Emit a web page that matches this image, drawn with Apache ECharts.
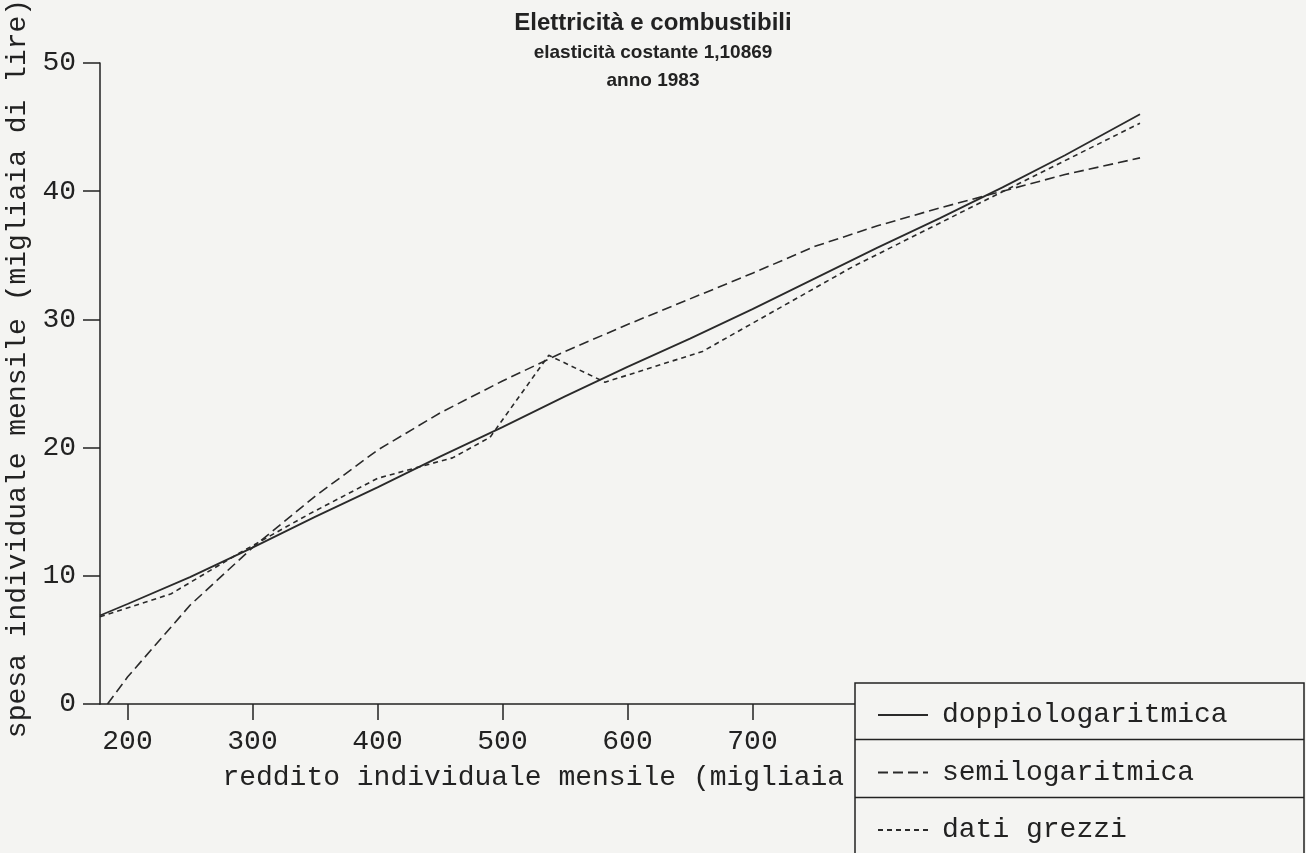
<!DOCTYPE html>
<html>
<head>
<meta charset="utf-8">
<script src="https://cdn.jsdelivr.net/npm/echarts@6/dist/echarts.min.js"></script>
<style>
html,body{margin:0;padding:0;background:#f4f4f2;}
#chart{width:1306px;height:853px;}
</style>
</head>
<body>
<div id="chart"></div>
<script>
// ---- data ----
const titleText = 'Elettricità e combustibili';
const subText = 'elasticità costante 1,10869\nanno 1983';
const xName = 'reddito individuale mensile (migliaia';
const yName = 'spesa individuale mensile (migliaia di lire)';
const seriesNames = ['doppiologaritmica', 'semilogaritmica', 'dati grezzi'];
const xTicks = [200, 300, 400, 500, 600, 700];
const yTicks = [0, 10, 20, 30, 40, 50];

const xDoppio = [178, 200, 250, 300, 350, 400, 450, 500, 550, 600, 650, 700, 750, 800, 850, 900, 950, 1010];
const yDoppio = [6.9, 7.8, 9.9, 12.2, 14.6, 16.9, 19.3, 21.6, 24.0, 26.3, 28.5, 30.8, 33.2, 35.6, 37.9, 40.3, 42.8, 46.0];

const xSemi = [184, 200, 250, 300, 350, 400, 450, 500, 550, 600, 650, 700, 750, 800, 850, 900, 950, 1010];
const ySemi = [0, 2.1, 7.7, 12.2, 16.2, 19.8, 22.7, 25.2, 27.5, 29.6, 31.6, 33.6, 35.7, 37.3, 38.7, 40.0, 41.3, 42.6];

const xRaw = [178, 235, 290, 345, 400, 460, 490, 537, 582, 660, 780, 870, 1010];
const yRaw = [6.8, 8.6, 11.8, 14.8, 17.6, 19.2, 20.8, 27.2, 25.1, 27.5, 34.1, 38.5, 45.3];

// ---- chart ----
const ink = '#222';
const mono = 'Liberation Mono';
const zip = (xs, ys) => xs.map((x, i) => [x, ys[i]]);

const chart = echarts.init(document.getElementById('chart'));
chart.setOption({
  backgroundColor: '#f4f4f2',
  animation: false,
  title: {
    text: titleText,
    subtext: subText,
    left: 'center',
    top: 5,
    itemGap: 3,
    textStyle: { fontFamily: 'Liberation Sans', fontWeight: 'bold', fontSize: 24, color: ink, lineHeight: 26 },
    subtextStyle: { fontFamily: 'Liberation Sans', fontWeight: 'bold', fontSize: 19, color: ink, lineHeight: 28 }
  },
  grid: { left: 100, right: 153.5, top: 63, bottom: 149, containLabel: false, outerBoundsMode: 'none' },
  xAxis: {
    type: 'value', min: 178, max: 1020,
    name: xName, nameLocation: 'middle', nameGap: 60,
    nameTextStyle: { fontFamily: mono, fontSize: 28, color: ink, padding: [0, 186, 0, 0] },
    axisLine: { show: true, lineStyle: { color: ink, width: 1.5 } },
    axisTick: { show: true, length: 16, lineStyle: { color: ink, width: 1.5 }, customValues: xTicks },
    axisLabel: { fontFamily: mono, fontSize: 28, color: ink, margin: 24, customValues: xTicks },
    splitLine: { show: false }
  },
  yAxis: {
    type: 'value', min: 0, max: 50, interval: 10,
    name: yName, nameLocation: 'middle', nameRotate: 90, nameGap: 64,
    nameTextStyle: { fontFamily: mono, fontSize: 28, color: ink, padding: [0, 0, 0, 30] },
    axisLine: { show: true, lineStyle: { color: ink, width: 1.5 } },
    axisTick: { show: true, length: 17, lineStyle: { color: ink, width: 1.5 } },
    axisLabel: { fontFamily: mono, fontSize: 28, color: ink, margin: 24 },
    splitLine: { show: false }
  },
  legend: {
    orient: 'vertical', left: 872, top: 695, z: 10,
    itemWidth: 50, itemHeight: 14, itemGap: 27.5,
    selectedMode: false,
    data: seriesNames,
    itemStyle: { opacity: 0 },
    textStyle: { fontFamily: mono, fontSize: 28, color: ink, lineHeight: 30, padding: [0, 0, 0, 9] }
  },
  graphic: [
    { type: 'rect', z: 5, shape: { x: 855, y: 683, width: 449, height: 190 },
      style: { fill: '#f4f4f2', stroke: ink, lineWidth: 1.5 } },
    { type: 'line', z: 6, shape: { x1: 855, y1: 739.5, x2: 1304, y2: 739.5 }, style: { stroke: ink, lineWidth: 1.5 } },
    { type: 'line', z: 6, shape: { x1: 855, y1: 797.5, x2: 1304, y2: 797.5 }, style: { stroke: ink, lineWidth: 1.5 } }
  ],
  series: [
    { name: seriesNames[0], type: 'line', data: zip(xDoppio, yDoppio), symbol: 'none', z: 3, color: '#2a2a2a',
      lineStyle: { color: '#2a2a2a', width: 1.8, type: 'solid' } },
    { name: seriesNames[1], type: 'line', data: zip(xSemi, ySemi), symbol: 'none', z: 3, color: '#2a2a2a',
      lineStyle: { color: '#2a2a2a', width: 1.6, type: [10, 5] } },
    { name: seriesNames[2], type: 'line', data: zip(xRaw, yRaw), symbol: 'none', z: 3, color: '#2a2a2a',
      lineStyle: { color: '#2a2a2a', width: 1.6, type: [5, 4] } }
  ]
});
</script>
</body>
</html>
